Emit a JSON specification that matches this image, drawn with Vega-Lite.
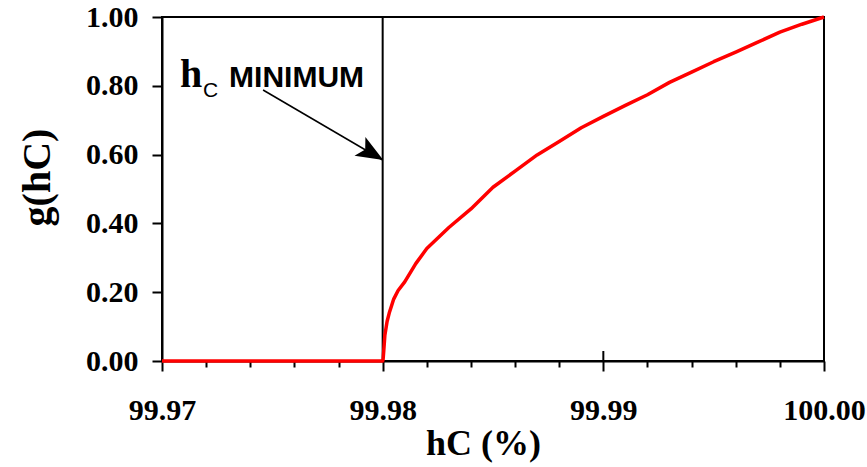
{
  "$schema": "https://vega.github.io/schema/vega-lite/v6.json",
  "width": 662,
  "height": 344,
  "autosize": {"type": "none"},
  "padding": {"left": 162, "top": 17, "right": 43, "bottom": 106},
  "background": "white",
  "config": {
    "view": {"stroke": "black", "strokeWidth": 2},
    "axis": {
      "domainColor": "black", "domainWidth": 2, "tickColor": "black", "tickWidth": 2,
      "grid": false, "labelColor": "black", "titleColor": "black",
      "labelFont": "Liberation Serif", "labelFontWeight": "bold", "labelFontSize": 30,
      "titleFont": "Liberation Serif", "titleFontWeight": "bold"
    }
  },
  "resolve": {"axis": {"x": "independent"}},
  "datasets": {
    "curve": [
      {"hc": 99.970, "g": 0},
      {"hc": 99.980, "g": 0},
      {"hc": 99.98002, "g": 0.005},
      {"hc": 99.98005, "g": 0.030},
      {"hc": 99.98010, "g": 0.075},
      {"hc": 99.98020, "g": 0.115},
      {"hc": 99.98030, "g": 0.140},
      {"hc": 99.98040, "g": 0.160},
      {"hc": 99.98050, "g": 0.180},
      {"hc": 99.98070, "g": 0.205},
      {"hc": 99.98100, "g": 0.230},
      {"hc": 99.98150, "g": 0.283},
      {"hc": 99.98200, "g": 0.327},
      {"hc": 99.98300, "g": 0.388},
      {"hc": 99.98400, "g": 0.442},
      {"hc": 99.98500, "g": 0.505},
      {"hc": 99.98600, "g": 0.552},
      {"hc": 99.98700, "g": 0.599},
      {"hc": 99.98800, "g": 0.638},
      {"hc": 99.98900, "g": 0.678},
      {"hc": 99.99000, "g": 0.711},
      {"hc": 99.99100, "g": 0.743},
      {"hc": 99.99200, "g": 0.774},
      {"hc": 99.99300, "g": 0.810},
      {"hc": 99.99400, "g": 0.840},
      {"hc": 99.99500, "g": 0.870},
      {"hc": 99.99600, "g": 0.898},
      {"hc": 99.99700, "g": 0.927},
      {"hc": 99.99800, "g": 0.956},
      {"hc": 99.99900, "g": 0.979},
      {"hc": 100.00000, "g": 1.0}
    ]
  },
  "layer": [
    {
      "data": {"values": [
        {"hc": 99.98, "g": 0, "g2": 1},
        {"hc": 99.99, "g": 0, "g2": 0.029}
      ]},
      "mark": {"type": "rule", "color": "black", "strokeWidth": 2},
      "encoding": {
        "x": {"field": "hc", "type": "quantitative",
          "scale": {"domain": [99.97, 100.0], "nice": false, "zero": false},
          "axis": {
            "orient": "bottom",
            "values": [99.97, 99.98, 99.99, 100.0],
            "format": ".2f",
            "tickSize": 10,
            "labelFont": "Times New Roman, Liberation Serif, serif",
            "labelFontWeight": 700,
            "labelFontSize": 30,
            "labelOverlap": false,
            "labelBaseline": "alphabetic",
            "labelPadding": 48,
            "labelFlush": false,
            "title": "hC (%)",
            "titleFontSize": 36,
            "titleX": 321,
            "titleY": 93,
            "titleAlign": "center",
            "titleBaseline": "alphabetic"
          }
        },
        "y": {"field": "g", "type": "quantitative",
          "scale": {"domain": [0, 1], "nice": false},
          "axis": {
            "values": [0, 0.2, 0.4, 0.6, 0.8, 1.0],
            "format": ".2f",
            "tickSize": 10,
            "labelPadding": 14,
            "title": "g(hC)",
            "titleFontSize": 40,
            "titleX": -125,
            "titleY": 160,
            "titleAngle": -90,
            "titleAlign": "center",
            "titleBaseline": "middle"
          }
        },
        "y2": {"field": "g2"}
      }
    },
    {
      "data": {"values": [{"hc": 99.97458, "g": 0.7878, "hc2": 99.9800, "g2": 0.5843}]},
      "mark": {"type": "rule", "color": "black", "strokeWidth": 1.5},
      "encoding": {
        "x": {"field": "hc", "type": "quantitative", "axis": null},
        "y": {"field": "g", "type": "quantitative"},
        "x2": {"field": "hc2"},
        "y2": {"field": "g2"}
      }
    },
    {
      "data": {"values": [{"hc": 99.979499, "g": 0.6041}]},
      "mark": {"type": "point", "shape": "M0,-1L0.8,1L0,0.55L-0.8,1Z", "filled": true, "color": "black", "opacity": 1, "size": 729, "angle": 120.3},
      "encoding": {
        "x": {"field": "hc", "type": "quantitative", "axis": null},
        "y": {"field": "g", "type": "quantitative"}
      }
    },
    {
      "data": {"name": "curve"},
      "mark": {"type": "line", "color": "#ff0000", "strokeWidth": 3.5, "strokeJoin": "round"},
      "encoding": {
        "x": {"field": "hc", "type": "quantitative",
          "axis": {
            "orient": "bottom",
            "values": [99.972, 99.974, 99.976, 99.978, 99.982, 99.984, 99.986, 99.988, 99.992, 99.994, 99.996, 99.998],
            "tickSize": 6,
            "labels": false,
            "domain": false,
            "title": null
          }
        },
        "y": {"field": "g", "type": "quantitative"}
      }
    },
    {
      "data": {"values": [{"hc": 99.97082, "g": 0.7965, "t": "h"}]},
      "mark": {"type": "text", "font": "Liberation Serif", "fontWeight": "bold", "fontSize": 40, "align": "left", "baseline": "alphabetic", "color": "black"},
      "encoding": {
        "x": {"field": "hc", "type": "quantitative", "axis": null},
        "y": {"field": "g", "type": "quantitative"},
        "text": {"field": "t"}
      }
    },
    {
      "data": {"values": [{"hc": 99.97186, "g": 0.7674, "t": "C"}]},
      "mark": {"type": "text", "font": "Liberation Sans", "fontSize": 21, "align": "left", "baseline": "alphabetic", "color": "black"},
      "encoding": {
        "x": {"field": "hc", "type": "quantitative", "axis": null},
        "y": {"field": "g", "type": "quantitative"},
        "text": {"field": "t"}
      }
    },
    {
      "data": {"values": [{"hc": 99.97304, "g": 0.7965, "t": "MINIMUM"}]},
      "mark": {"type": "text", "font": "Liberation Sans", "fontWeight": "bold", "fontSize": 30, "align": "left", "baseline": "alphabetic", "color": "black"},
      "encoding": {
        "x": {"field": "hc", "type": "quantitative", "axis": null},
        "y": {"field": "g", "type": "quantitative"},
        "text": {"field": "t"}
      }
    }
  ]
}
